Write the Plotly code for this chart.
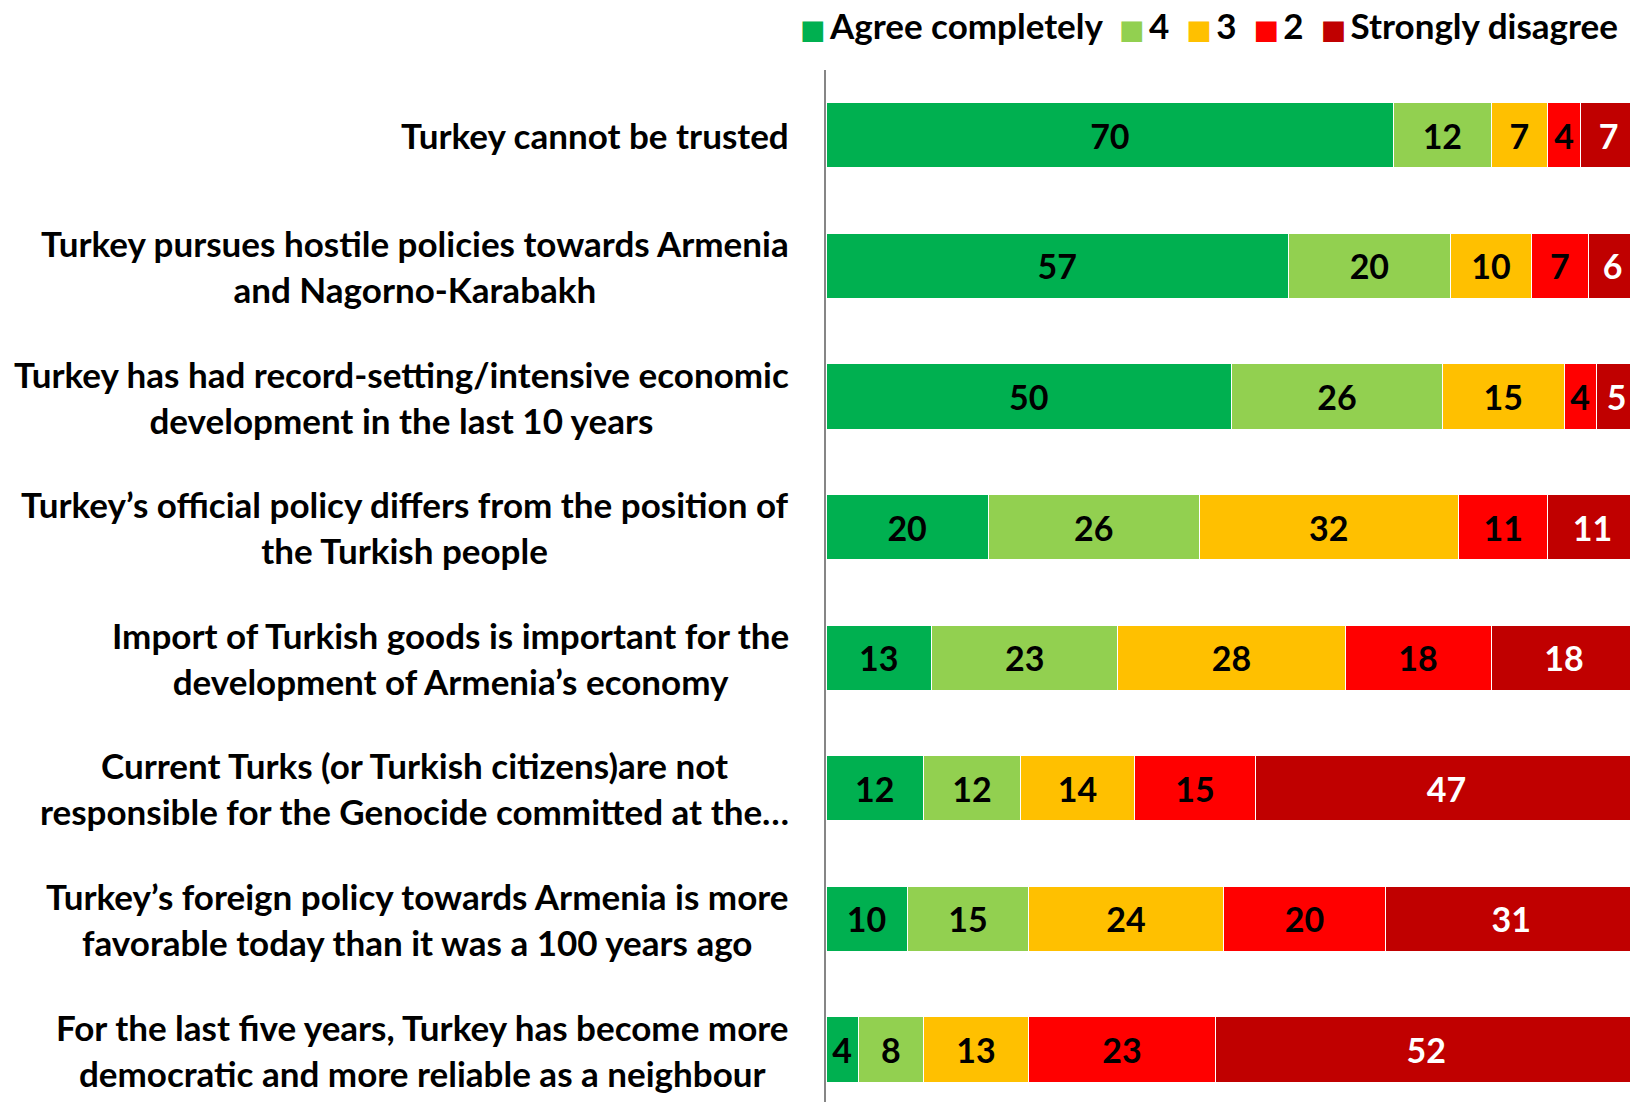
import plotly.graph_objects as go

categories = [
    "Turkey cannot be trusted",
    "Turkey pursues hostile policies towards Armenia<br>and Nagorno-Karabakh",
    "Turkey has had record-setting/intensive economic<br>development in the last 10 years",
    "Turkey’s official policy differs from the position of<br>the Turkish people",
    "Import of Turkish goods is important for the<br>development of Armenia’s economy",
    "Current Turks (or Turkish citizens)are not<br>responsible for the Genocide committed at the…",
    "Turkey’s foreign policy towards Armenia is more<br>favorable today than it was a 100 years ago",
    "For the last five years, Turkey has become more<br>democratic and more reliable as a neighbour",
]
series_names = ["Agree completely", "4", "3", "2", "Strongly disagree"]
agree_completely = [70, 57, 50, 20, 13, 12, 10, 4]
four = [12, 20, 26, 26, 23, 12, 15, 8]
three = [7, 10, 15, 32, 28, 14, 24, 13]
two = [4, 7, 4, 11, 18, 15, 20, 23]
strongly_disagree = [7, 6, 5, 11, 18, 47, 31, 52]

series_values = [agree_completely, four, three, two, strongly_disagree]
colors = ["#00B050", "#92D050", "#FFC000", "#FF0000", "#C00000"]
text_colors = ["black", "black", "black", "black", "white"]

FONT = "Lato"
ids = [f"c{i}" for i in range(len(categories))]

fig = go.Figure()
for name, vals, col, tc in zip(series_names, series_values, colors, text_colors):
    fig.add_trace(go.Bar(
        y=ids, x=vals, name=name, orientation="h",
        marker=dict(color=col, line=dict(color="white", width=1)),
        text=[str(v) for v in vals], textposition="inside",
        insidetextanchor="middle", textangle=0,
        textfont=dict(family=FONT, size=34, color=tc, weight="bold"),
        showlegend=False,
    ))

for cid, lab in zip(ids, categories):
    fig.add_annotation(
        x=0, xref="paper", y=cid, yref="y", text=lab, showarrow=False,
        xanchor="right", xshift=-35, align="center",
        font=dict(family=FONT, size=35, color="black", weight="bold"),
    )

# legend as text
parts = []
for name, col in zip(series_names, colors):
    parts.append(f"<span style='color:{col};font-family:DejaVu Sans;font-size:27px'>■</span>\u2009{name}")
legend_text = "\u00a0\u00a0".join(parts)
fig.add_annotation(
    x=1, xref="paper", y=1.044, yref="paper", text=legend_text, showarrow=False,
    xanchor="right", yanchor="middle", xshift=-17,
    font=dict(family=FONT, size=35, color="black", weight="bold"),
)

fig.update_layout(
    width=1630, height=1094,
    margin=dict(l=818, r=1, t=62, b=0),
    barmode="stack", bargap=0.5,
    paper_bgcolor="white", plot_bgcolor="white",
    showlegend=False,
    xaxis=dict(range=[0, 100], showgrid=False, zeroline=False, showticklabels=False,
               showline=False, fixedrange=True),
    yaxis=dict(categoryorder="array", categoryarray=ids, range=[7.402, -0.5],
               showgrid=False, zeroline=False, showticklabels=False,
               showline=True, linecolor="#868686", linewidth=2),
)

fig.write_html("out.html")
